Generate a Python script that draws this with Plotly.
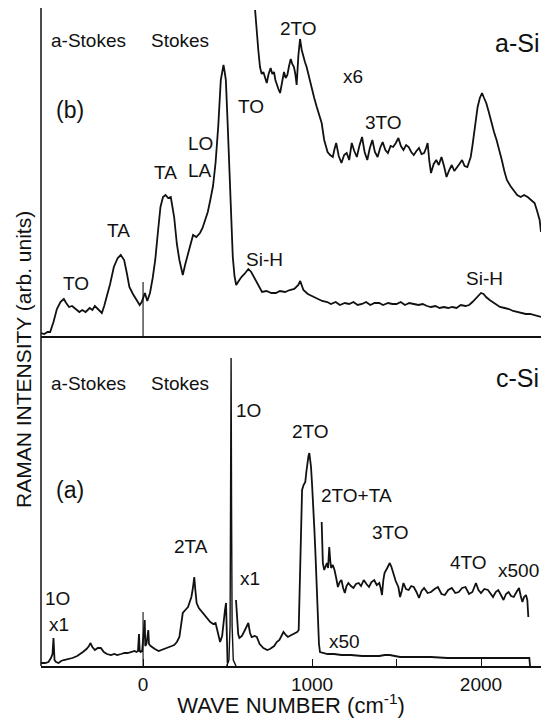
import plotly.graph_objects as go

# ---------------- data (wave number in cm^-1, intensity in arb. units) ----------------
# upper panel (b) a-Si, x1 spectrum
asi_wn = [-604, -585, -565, -550, -530, -510, -489, -469, -455, -438,
          -420, -400, -377, -360, -340, -316, -300, -285, -265, -244,
          -230, -214, -195, -173, -150, -132, -112, -95, -81, -60,
          -40, -20, -8, 11, 25, 41, 57, 72, 88, 103,
          118, 133, 148, 164, 184, 200, 215, 235, 250, 266,
          282, 296, 315, 337, 352, 368, 383, 398, 414, 429,
          445, 460, 468, 476, 483, 490, 500, 511, 521, 531,
          541, 551, 566, 582, 600, 623, 640, 664, 684, 704,
          730, 760, 786, 810, 840, 868, 895, 919, 930, 949,
          975, 1000, 1031, 1060, 1090, 1112, 1140, 1165, 1194, 1220,
          1245, 1270, 1296, 1320, 1345, 1370, 1398, 1420, 1450, 1475,
          1500, 1525, 1550, 1575, 1602, 1630, 1655, 1680, 1704, 1730,
          1755, 1780, 1806, 1830, 1855, 1880, 1908, 1930, 1949, 1970,
          1985, 2000, 2015, 2030, 2051, 2075, 2090, 2112, 2140, 2165,
          2190, 2214, 2240, 2265, 2290, 2315, 2337, 2355]
asi_int = [3, 2, 4, 4, 14, 27, 34, 37, 33, 29,
           30, 27, 24, 26, 24, 28, 26, 30, 27, 23,
           30, 39, 52, 69, 78, 81, 76, 62, 49, 42,
           36, 31, 34, 43, 35, 43, 58, 76, 104, 129,
           139, 141, 138, 139, 119, 92, 76, 61, 72, 83,
           94, 101, 99, 103, 108, 116, 124, 136, 150, 173,
           210, 256, 266, 271, 264, 256, 215, 169, 118, 79,
           60, 51, 55, 59, 62, 67, 64, 56, 50, 44,
           45, 43, 43, 45, 44, 46, 47, 51, 55, 46,
           42, 40, 38, 35, 34, 32, 34, 31, 33, 32,
           34, 31, 32, 34, 31, 33, 33, 31, 33, 32,
           32, 34, 31, 33, 32, 31, 32, 30, 29, 30,
           28, 29, 28, 29, 28, 31, 30, 31, 34, 38,
           41, 43, 42, 39, 36, 33, 31, 29, 28, 27,
           25, 24, 23, 22, 22, 21, 20, 19]

# upper panel (b) a-Si, x6 spectrum
asi6_wn = [663, 672, 682, 692, 702, 712, 722, 732, 743, 755,
           765, 775, 783, 791, 801, 811, 822, 834, 844, 854,
           864, 874, 883, 893, 901, 909, 919, 929, 939, 949,
           958, 968, 983, 998, 1013, 1028, 1043, 1057, 1072, 1082,
           1092, 1107, 1123, 1133, 1143, 1158, 1174, 1190, 1205, 1220,
           1235, 1250, 1265, 1280, 1296, 1311, 1327, 1342, 1357, 1372,
           1388, 1403, 1418, 1434, 1449, 1465, 1480, 1496, 1511, 1526,
           1541, 1557, 1572, 1587, 1602, 1618, 1633, 1648, 1663, 1675,
           1684, 1694, 1704, 1720, 1735, 1750, 1766, 1781, 1796, 1812,
           1827, 1842, 1857, 1872, 1888, 1903, 1919, 1929, 1939, 1949,
           1959, 1970, 1980, 1993, 2006, 2018, 2031, 2046, 2061, 2077,
           2092, 2108, 2123, 2138, 2153, 2174, 2194, 2214, 2235, 2255,
           2276, 2296, 2317, 2332, 2347, 2355]
asi6_int = [326, 305, 286, 269, 262, 264, 258, 253, 262, 268,
            262, 264, 256, 251, 247, 243, 252, 264, 258, 261,
            270, 277, 272, 269, 262, 251, 280, 297, 286, 279,
            274, 269, 258, 246, 238, 229, 220, 213, 196, 190,
            184, 181, 179, 187, 193, 180, 173, 181, 183, 176,
            193, 185, 179, 190, 199, 184, 176, 188, 196, 184,
            179, 188, 194, 186, 183, 190, 189, 193, 198, 190,
            186, 191, 189, 184, 181, 185, 188, 182, 183, 188,
            193, 175, 163, 172, 176, 171, 179, 170, 159, 166,
            171, 165, 168, 172, 176, 170, 169, 175, 179, 190,
            203, 218, 229, 238, 243, 238, 233, 224, 213, 204,
            196, 187, 176, 165, 156, 150, 146, 141, 139, 141,
            139, 136, 133, 125, 116, 104]

# laser line (0 cm^-1)
laser_wn = [0, 0]
laser_asi = [0, 54]
laser_csi = [0, 54]

# lower panel (a) c-Si, x50 spectrum below the 1O line
csi_left_wn = [-605, -580, -560, -545, -536, -530, -524, -515, -500, -485,
               -469, -445, -418, -390, -370, -356, -335, -320, -312, -300,
               -285, -268, -250, -232, -214, -190, -170, -153, -130, -110,
               -91, -70, -50, -40, -30, -24, -20, -14, -8, -6,
               10, 13, 20, 31, 35, 45, 52, 70, 92, 110,
               133, 155, 170, 184, 200, 215, 225, 235, 250, 266,
               276, 286, 295, 303, 310, 317, 330, 345, 358, 378,
               398, 415, 429, 439, 450, 456, 468, 476, 484, 491,
               495, 500]
csi_left_int = [3, 3, 4, 8, 12, 28, 6, 4, 3, 5,
                6, 7, 8, 10, 12, 14, 17, 20, 23, 19,
                16, 18, 18, 14, 12, 11, 12, 11, 12, 13,
                13, 14, 15, 14, 15, 32, 15, 14, 15, 14,
                46, 20, 22, 36, 22, 20, 19, 17, 15, 16,
                18, 19, 20, 21, 24, 29, 40, 53, 56, 59,
                64, 69, 78, 89, 75, 63, 58, 55, 53, 49,
                44, 42, 43, 36, 28, 24, 30, 45, 55, 63,
                30, 3]

# lower panel (a) c-Si, x1 one-phonon (1O) line
csi_1o_wn = [495, 508, 515, 518, 521, 524, 527, 534, 550]
csi_1o_int = [0, 6, 40, 150, 308, 150, 40, 6, 0]

# lower panel (a) c-Si, x50 spectrum above the 1O line
csi_right_wn = [550, 556, 563, 570, 585, 600, 612, 623, 633, 643,
                660, 673, 690, 712, 735, 751, 776, 791,
                807, 820, 831, 845, 857, 878, 898, 912, 921, 929,
                935, 941, 950, 960, 967, 974, 979, 984, 989, 994,
                1000, 1007, 1014, 1021, 1028, 1035, 1041, 1047, 1070, 1092,
                1130, 1174, 1230, 1296, 1350, 1398, 1430, 1460, 1490, 1521,
                1600, 1704, 1800, 1908, 2000, 2112, 2200, 2286, 2290]
csi_right_int = [66, 45, 32, 28, 30, 35, 40, 43, 33, 29,
                 30, 29, 22, 18, 16, 17, 20, 24,
                 26, 30, 34, 31, 29, 31, 33, 34, 36, 83,
                 140, 176, 181, 184, 195, 206, 210, 213, 207, 199,
                 182, 163, 136, 109, 75, 43, 22, 14, 13, 12,
                 12, 11, 11, 10, 10, 10, 11, 11, 10, 9,
                 9, 9, 8, 8, 8, 8, 8, 8, 0]

# lower panel (a) c-Si, x500 spectrum
csi500_wn = [1057, 1060, 1064, 1072, 1080, 1088, 1095, 1102, 1108, 1113,
             1123, 1133, 1143, 1153, 1164, 1174, 1184, 1194, 1204, 1215,
             1230, 1245, 1260, 1276, 1290, 1306, 1322, 1337, 1352, 1368,
             1383, 1398, 1406, 1414, 1422, 1429, 1445, 1460, 1470, 1480,
             1495, 1511, 1521, 1531, 1541, 1556, 1572, 1587, 1602, 1618,
             1633, 1648, 1663, 1684, 1704, 1725, 1745, 1766, 1786, 1806,
             1827, 1848, 1868, 1888, 1908, 1929, 1949, 1970, 1985, 2000,
             2020, 2041, 2056, 2071, 2087, 2102, 2118, 2133, 2148, 2163,
             2178, 2194, 2210, 2225, 2235, 2245, 2255, 2266, 2274, 2280]
csi500_int = [144, 120, 103, 96, 100, 103, 98, 119, 105, 98,
              101, 96, 88, 79, 84, 86, 78, 73, 80, 83,
              80, 78, 82, 83, 80, 86, 82, 79, 84, 86,
              81, 83, 78, 71, 86, 93, 98, 103, 99, 93,
              85, 79, 69, 75, 83, 77, 76, 80, 79, 74,
              68, 75, 78, 73, 74, 77, 79, 72, 71, 76,
              78, 73, 74, 78, 79, 72, 74, 83, 76, 73,
              77, 76, 72, 69, 74, 76, 71, 66, 72, 74,
              70, 69, 74, 78, 70, 64, 69, 71, 66, 49]

major_ticks = [0, 1000, 2000]
major_text = ["0", "1000", "2000"]
minor_ticks = [500, 1500]

# text labels: (text, wave number, intensity)
upper_labels = [("a-Stokes", -325, 296), ("Stokes", 219, 296), ("(b)", -432, 226),
                ("2TO", 917, 308), ("x6", 1243, 260), ("TO", 639, 230),
                ("3TO", 1420, 214), ("LO", 337, 193), ("LA", 337, 166),
                ("TA", 130, 164), ("TA", -148, 106), ("TO", -396, 53),
                ("Si-H", 716, 77), ("Si-H", 2018, 58)]
lower_labels = [("a-Stokes", -320, 282), ("Stokes", 219, 282), ("1O", 621, 255),
                ("2TO", 988, 234), ("(a)", -432, 176), ("2TO+TA", 1266, 170),
                ("3TO", 1462, 133), ("2TA", 284, 119), ("4TO", 1923, 103),
                ("x1", 633, 88), ("1O", -509, 68), ("x1", -497, 42),
                ("x50", 1195, 25)]

for a, b in [(asi_wn, asi_int), (asi6_wn, asi6_int), (csi_left_wn, csi_left_int),
             (csi_1o_wn, csi_1o_int), (csi_right_wn, csi_right_int), (csi500_wn, csi500_int)]:
    assert len(a) == len(b), (len(a), len(b))

# ---------------- figure ----------------
FONT = "Liberation Sans, Arial, Helvetica, sans-serif"
INK = "#111111"
LBL = 19
LW = 1.8

fig = go.Figure()
spec = dict(mode="lines", showlegend=False, hoverinfo="skip")

fig.add_trace(go.Scatter(x=asi_wn, y=asi_int, xaxis="x2", yaxis="y2",
                         line=dict(color=INK, width=LW), **spec))
fig.add_trace(go.Scatter(x=asi6_wn, y=asi6_int, xaxis="x2", yaxis="y2",
                         line=dict(color=INK, width=LW), **spec))
fig.add_trace(go.Scatter(x=laser_wn, y=laser_asi, xaxis="x2", yaxis="y2",
                         line=dict(color=INK, width=1.1), **spec))

fig.add_trace(go.Scatter(x=csi_left_wn, y=csi_left_int, xaxis="x", yaxis="y",
                         line=dict(color=INK, width=LW), **spec))
fig.add_trace(go.Scatter(x=laser_wn, y=laser_csi, xaxis="x", yaxis="y",
                         line=dict(color=INK, width=1.1), **spec))
fig.add_trace(go.Scatter(x=csi_1o_wn, y=csi_1o_int, xaxis="x", yaxis="y",
                         line=dict(color=INK, width=1.4), **spec))
fig.add_trace(go.Scatter(x=csi_right_wn, y=csi_right_int, xaxis="x", yaxis="y",
                         line=dict(color=INK, width=LW), **spec))
fig.add_trace(go.Scatter(x=csi500_wn, y=csi500_int, xaxis="x", yaxis="y",
                         line=dict(color=INK, width=LW), **spec))

annotations = []
for t, xv, yv in upper_labels:
    annotations.append(dict(text=t, x=xv, y=yv, xref="x2", yref="y2", showarrow=False,
                            xanchor="center", yanchor="middle",
                            font=dict(size=23 if t.startswith("(") else LBL, color=INK, family=FONT)))
for t, xv, yv in lower_labels:
    annotations.append(dict(text=t, x=xv, y=yv, xref="x", yref="y", showarrow=False,
                            xanchor="center", yanchor="middle",
                            font=dict(size=23 if t.startswith("(") else LBL, color=INK, family=FONT)))
annotations.append(dict(text="a-Si", x=1, y=293, xref="paper", yref="y2", xanchor="right",
                        yanchor="middle", showarrow=False, font=dict(size=25, color=INK, family=FONT)))
annotations.append(dict(text="c-Si", x=1, y=288, xref="paper", yref="y", xanchor="right",
                        yanchor="middle", showarrow=False, font=dict(size=25, color=INK, family=FONT)))
annotations.append(dict(text="x500", x=1, y=95, xref="paper", yref="y", xanchor="right",
                        yanchor="middle", showarrow=False, font=dict(size=LBL, color=INK, family=FONT)))
annotations.append(dict(text="RAMAN INTENSITY (arb. units)", x=-0.034, y=0.4595,
                        xref="paper", yref="paper", textangle=-90, showarrow=False,
                        xanchor="center", yanchor="middle",
                        font=dict(size=21, color=INK, family=FONT)))

fig.update_layout(
    width=541, height=718,
    margin=dict(l=41, r=0, t=0, b=52),
    paper_bgcolor="white", plot_bgcolor="white",
    font=dict(family=FONT, color=INK),
    xaxis=dict(range=[-604, 2355], domain=[0, 1], anchor="y",
               showline=True, linecolor=INK, linewidth=1.5, mirror=False,
               ticks="inside", ticklen=7, tickwidth=1.2, tickcolor=INK,
               tickmode="array", tickvals=major_ticks, ticktext=major_text,
               minor=dict(tickmode="array", tickvals=minor_ticks, ticks="inside",
                          ticklen=7, tickwidth=1.2, tickcolor=INK, showgrid=False),
               tickfont=dict(size=19, family=FONT, color=INK),
               showgrid=False, zeroline=False,
               title=dict(text="WAVE NUMBER (cm<sup>-1</sup>)", standoff=0,
                          font=dict(size=22, family=FONT, color=INK))),
    xaxis2=dict(range=[-604, 2355], domain=[0, 1], anchor="y2", matches="x",
                showline=True, linecolor=INK, linewidth=1.5,
                showticklabels=False, ticks="", showgrid=False, zeroline=False),
    yaxis=dict(domain=[0, 0.4895], range=[0, 326], visible=False, fixedrange=True),
    yaxis2=dict(domain=[0.4955, 1], range=[0, 336], visible=False, fixedrange=True),
    annotations=annotations,
    shapes=[dict(type="line", xref="paper", yref="paper", x0=0, x1=0, y0=0, y1=0.988,
                 line=dict(color=INK, width=1.5))],
)

fig.write_html("out.html", config={"displayModeBar": False},
               post_script="document.body.style.margin='0';document.body.style.overflow='hidden';")
